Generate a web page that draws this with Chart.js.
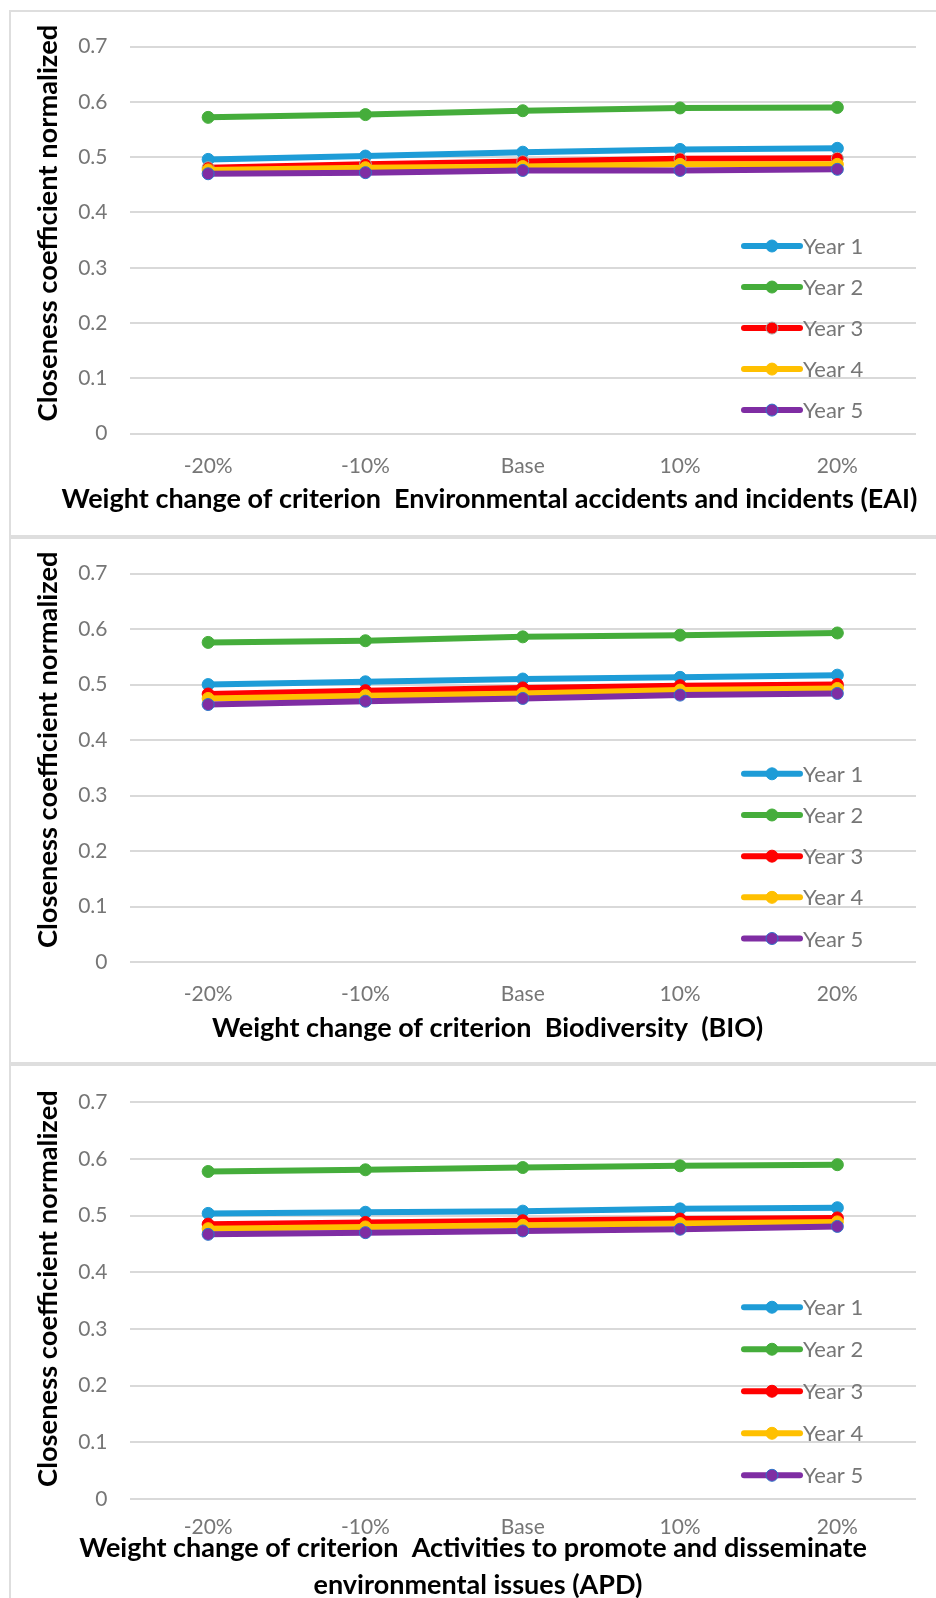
<!DOCTYPE html>
<html>
<head>
<meta charset="utf-8">
<title>Closeness coefficient sensitivity</title>
<script src="https://cdn.jsdelivr.net/npm/chart.js@4.4.1/dist/chart.umd.min.js"></script>
<style>
  html, body { margin: 0; padding: 0; background: #fff; overflow: hidden; }
  body { width: 936px; height: 1598px; position: relative; }
  .panel {
    position: absolute;
    left: 9px;
    border: 2px solid #dedede;
    border-right: none;
    background: #fff;
  }
  .panel canvas { display: block; }
</style>
</head>
<body>
<div class="panel" style="top:10px;"><canvas id="chartEai" width="925" height="523"></canvas></div>
<div class="panel" style="top:537px;"><canvas id="chartBio" width="925" height="523"></canvas></div>
<div class="panel" style="top:1064px;"><canvas id="chartApd" width="925" height="532"></canvas></div>

<script>
// ---- data ----
const categories = ['-20%', '-10%', 'Base', '10%', '20%'];
const seriesNames = ['Year 1', 'Year 2', 'Year 3', 'Year 4', 'Year 5'];
const yTickLabels = ['0', '0.1', '0.2', '0.3', '0.4', '0.5', '0.6', '0.7'];

// Environmental accidents and incidents (EAI)
const eaiYear1 = [0.496, 0.502, 0.509, 0.514, 0.516];
const eaiYear2 = [0.572, 0.577, 0.584, 0.589, 0.590];
const eaiYear3 = [0.481, 0.487, 0.492, 0.497, 0.498];
const eaiYear4 = [0.477, 0.481, 0.483, 0.487, 0.487];
const eaiYear5 = [0.470, 0.472, 0.476, 0.476, 0.478];

// Biodiversity (BIO)
const bioYear1 = [0.500, 0.505, 0.510, 0.513, 0.517];
const bioYear2 = [0.576, 0.579, 0.586, 0.589, 0.593];
const bioYear3 = [0.483, 0.489, 0.494, 0.498, 0.500];
const bioYear4 = [0.475, 0.480, 0.484, 0.490, 0.493];
const bioYear5 = [0.464, 0.470, 0.475, 0.481, 0.484];

// Activities to promote and disseminate environmental issues (APD)
const apdYear1 = [0.504, 0.506, 0.508, 0.512, 0.514];
const apdYear2 = [0.578, 0.581, 0.585, 0.588, 0.590];
const apdYear3 = [0.485, 0.488, 0.491, 0.494, 0.496];
const apdYear4 = [0.477, 0.480, 0.483, 0.486, 0.489];
const apdYear5 = [0.467, 0.470, 0.473, 0.476, 0.481];

const yTitle = 'Closeness coefficient normalized';
const xTitleEai = ['Weight change of criterion  Environmental accidents and incidents (EAI)'];
const xTitleBio = ['Weight change of criterion  Biodiversity  (BIO)'];
const xTitleApd = ['Weight change of criterion  Activities to promote and disseminate', 'environmental issues (APD)'];

// ---- styles ----
const lineColors = ['#1e9cd7', '#45ad3b', '#ff0000', '#ffc000', '#7f2da3'];
const markerBordersEai = ['#1e9cd7', '#45ad3b', '#a6a6a6', '#ffc000', '#2f74c8'];
const markerBorders = ['#1e9cd7', '#45ad3b', '#ff0000', '#ffc000', '#2f74c8'];
const tickColor = '#767676';
const FONT = 'Lato, "Open Sans", sans-serif';

// draws the axis titles and the legend box inside the plot
const panelText = {
    id: 'panelText',
    afterDraw(chart, args, opts) {
        const ctx = chart.ctx;
        const area = chart.chartArea;
        ctx.save();

        // y title (rotated)
        ctx.save();
        ctx.translate(opts.yTitleX, (area.top + area.bottom) / 2 + opts.yTitleShift);
        ctx.rotate(-Math.PI / 2);
        ctx.font = 'bold 27.3px ' + FONT;
        ctx.fillStyle = '#000';
        ctx.textAlign = 'center';
        ctx.textBaseline = 'alphabetic';
        ctx.fillText(yTitle, 0, 0);
        ctx.restore();

        // x title
        ctx.font = 'bold 27px ' + FONT;
        ctx.fillStyle = '#000';
        ctx.textAlign = 'center';
        ctx.textBaseline = 'alphabetic';
        opts.xTitle.forEach((line, i) => {
            ctx.fillText(line, opts.xTitleX[i], opts.xTitleY[i]);
        });

        // legend
        const sets = chart.data.datasets;
        const gap = (area.bottom - area.top) * 0.106;
        ctx.font = '22px ' + FONT;
        ctx.textAlign = 'left';
        ctx.textBaseline = 'middle';
        sets.forEach((ds, i) => {
            const y = area.bottom - 23.5 - (sets.length - 1 - i) * gap;
            ctx.strokeStyle = ds.borderColor;
            ctx.lineWidth = 6;
            ctx.lineCap = 'round';
            ctx.beginPath();
            ctx.moveTo(733, y);
            ctx.lineTo(789, y);
            ctx.stroke();

            ctx.beginPath();
            ctx.arc(761, y, 6, 0, Math.PI * 2);
            ctx.fillStyle = ds.pointBackgroundColor;
            ctx.fill();
            ctx.lineWidth = 1;
            ctx.strokeStyle = ds.pointBorderColor;
            ctx.stroke();

            ctx.fillStyle = tickColor;
            ctx.fillText(ds.label, 792, y + 1);
        });

        ctx.restore();
    }
};

function makeChart(canvasId, series, borders, layout) {
    const datasets = series.map((values, i) => ({
        label: seriesNames[i],
        data: values,
        borderColor: lineColors[i],
        backgroundColor: lineColors[i],
        borderWidth: 6,
        borderCapStyle: 'round',
        borderJoinStyle: 'round',
        pointRadius: 6,
        pointHoverRadius: 6,
        pointBackgroundColor: lineColors[i],
        pointBorderColor: borders[i],
        pointBorderWidth: 1,
        tension: 0,
        fill: false,
        order: series.length - 1 - i
    }));

    return new Chart(document.getElementById(canvasId), {
        type: 'line',
        data: { labels: categories, datasets },
        options: {
            responsive: false,
            animation: false,
            devicePixelRatio: 1,
            layout: { padding: { top: layout.top, right: 20, bottom: 0, left: 0 } },
            plugins: {
                legend: { display: false },
                tooltip: { enabled: false },
                panelText: {
                    yTitleX: 45.7,
                    yTitleShift: layout.yTitleShift,
                    xTitle: layout.xTitle,
                    xTitleX: layout.xTitleX,
                    xTitleY: layout.xTitleY
                }
            },
            scales: {
                x: {
                    type: 'category',
                    offset: true,
                    grid: { display: false },
                    border: { display: false },
                    ticks: {
                        color: tickColor,
                        font: { family: FONT, size: 21 },
                        padding: layout.xTickPad,
                        maxRotation: 0,
                        autoSkip: false
                    },
                    afterFit: s => { s.height = layout.xAxisHeight; }
                },
                y: {
                    min: 0,
                    max: 0.7,
                    grid: { color: '#d9d9d9', lineWidth: 2, drawTicks: false },
                    border: { display: false },
                    ticks: {
                        stepSize: 0.1,
                        color: tickColor,
                        font: { family: FONT, size: 21 },
                        padding: 22,
                        callback: v => yTickLabels[Math.round(v * 10)]
                    },
                    afterFit: s => { s.width = 118.5; }
                }
            }
        },
        plugins: [panelText]
    });
}

makeChart('chartEai', [eaiYear1, eaiYear2, eaiYear3, eaiYear4, eaiYear5], markerBordersEai, {
    top: 34, xAxisHeight: 101.4, yTitleShift: -17, xTickPad: 12,
    xTitle: xTitleEai, xTitleX: [478.5], xTitleY: [496]
});

makeChart('chartBio', [bioYear1, bioYear2, bioYear3, bioYear4, bioYear5], markerBorders, {
    top: 34, xAxisHeight: 100, yTitleShift: -18, xTickPad: 12,
    xTitle: xTitleBio, xTitleX: [476.6], xTitleY: [498]
});

makeChart('chartApd', [apdYear1, apdYear2, apdYear3, apdYear4, apdYear5], markerBorders, {
    top: 36.4, xAxisHeight: 99.2, yTitleShift: -12, xTickPad: 8,
    xTitle: xTitleApd, xTitleX: [462, 467], xTitleY: [491, 527.5]
});
</script>
</body>
</html>
